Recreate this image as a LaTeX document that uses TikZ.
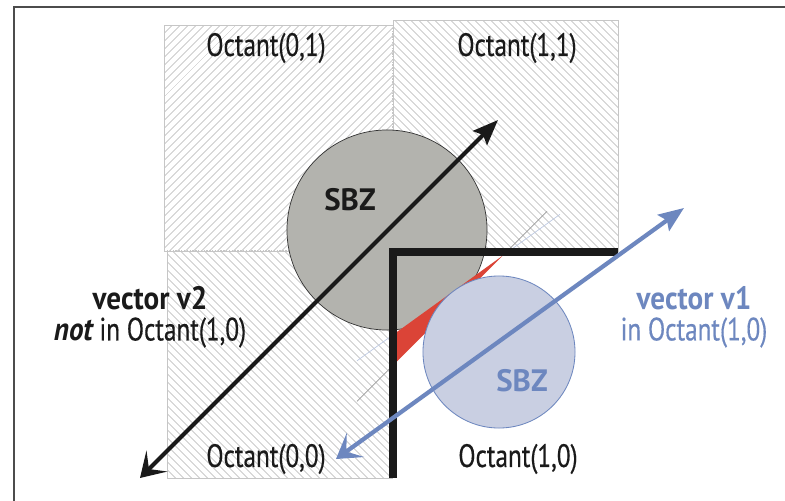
\documentclass[tikz,border=0pt]{standalone}
\usepackage{fontspec}
\setmainfont{PT Sans}[FakeStretch=0.78, UprightFeatures={FakeBold=0.4}]
\newfontfamily\headfont{PT Sans}[FakeStretch=0.9]
\newfontfamily\zonefont{PT Sans}
\usepackage{xcolor}
\usetikzlibrary{arrows.meta, patterns.meta, calc}

\definecolor{vecblue}{HTML}{6D87BF}
\definecolor{sbzgray}{HTML}{B3B3AE}
\definecolor{sbzblue}{HTML}{C9CFE2}
\definecolor{sbzred}{HTML}{DB4437}
\definecolor{inkblack}{HTML}{1A1A1A}

\tikzset{
  hatchNE/.style={draw=gray!45, line width=0.4pt, pattern={Lines[angle=45, distance=4pt, line width=0.4pt]}, pattern color=gray!85},
  hatchNW/.style={draw=gray!45, line width=0.4pt, pattern={Lines[angle=-45, distance=4pt, line width=0.4pt]}, pattern color=gray!85},
  seam/.style={gray!45, line width=2pt, dash pattern=on 1pt off 1pt},
  bigtext/.style={font=\fontsize{23}{22}\selectfont},
  octlabel/.style={bigtext, text=inkblack},
  sbzlabel/.style={font=\zonefont\fontsize{22}{22}\selectfont\bfseries},
  vecarrow/.style={line width=3pt, {Stealth[length=17pt, width=21pt, inset=8pt]}-{Stealth[length=18pt, width=14pt, inset=3pt]}}
}

\begin{document}
\begin{tikzpicture}[x=0.025cm, y=-0.025cm]
  \useasboundingbox (0,0) rectangle (785,501);
  % Frame
  \draw[gray!60!black, line width=1.4pt] (14,501) -- (14,7) -- (785,7);

  % Hatched octants
  \draw[hatchNE] (164,25) rectangle (393,251);
  \draw[hatchNW] (393,20) rectangle (618,251);
  \draw[hatchNW] (167,251) rectangle (393,478);
  % Seams between octants
  \draw[seam] (393,25) -- (393,135);
  \draw[seam] (167,251) -- (295,251);

  % Tangent lines
  \coordinate (gtanA) at (357,401.4);
  \coordinate (gtanB) at (547,211.4);
  \coordinate (btanA) at (357,360.8);
  \coordinate (btanB) at (560,214.3);
  \draw[gray!80, line width=0.5pt] (gtanA) -- (gtanB);
  \draw[vecblue!45, line width=0.5pt] (btanA) -- (btanB);

  % Octant(1,0) is left blank
  \fill[white] (393,252) rectangle (640,485);

  % Gray SBZ
  \node[circle, draw=gray!40!black, line width=0.5pt, fill=sbzgray, minimum size=5cm, inner sep=0pt] (sbzgray) at (387,230) {};

  % Red wedge
  \coordinate (wedgeA) at (393,365.4);
  \coordinate (wedgeB) at (503,255.4);
  \coordinate (wedgeC) at (393,334.8);
  \fill[sbzred] (wedgeA) -- (wedgeB) -- (wedgeC) -- cycle;

  % Blue SBZ
  \node[circle, draw=vecblue, line width=0.6pt, fill=sbzblue, minimum size=3.8cm, inner sep=0pt] (sbzblue) at (499,352) {};

  % Octant(1,0) border
  \draw[inkblack, line width=5.7pt] (393,478) -- (393,252) -- (618,252);

  % Vectors
  \coordinate (vtwoTail) at (140,478);
  \coordinate (vtwoHead) at (498,120);
  \coordinate (voneTail) at (336,459);
  \coordinate (voneHead) at (684,208);
  \draw[vecarrow, inkblack] (vtwoTail) -- (vtwoHead);
  \draw[vecarrow, vecblue] (voneTail) -- (voneHead);

  % Labels
  \node[octlabel] (octZO) at (266,48) {Octant(0,1)};
  \node[octlabel] (octOO) at (517,48) {Octant(1,1)};
  \node[octlabel] (octZZ) at (266,459) {Octant(0,0)};
  \node[octlabel] (octOZ) at (518,459) {Octant(1,0)};
  \node[sbzlabel, text=inkblack] (sbzgrayText) at (350,200) {SBZ};
  \node[sbzlabel, text=vecblue] (sbzblueText) at (522,381) {SBZ};

  \node[bigtext, text=inkblack, align=center] (vtwoText) at (150,317) {{\headfont\bfseries vector v2}\\{\headfont\bfseries\itshape not} in Octant(1,0)};
  \node[bigtext, text=vecblue, align=center] (voneText) at (694,317) {{\headfont\bfseries vector v1}\\in Octant(1,0)};
\end{tikzpicture}
\end{document}
